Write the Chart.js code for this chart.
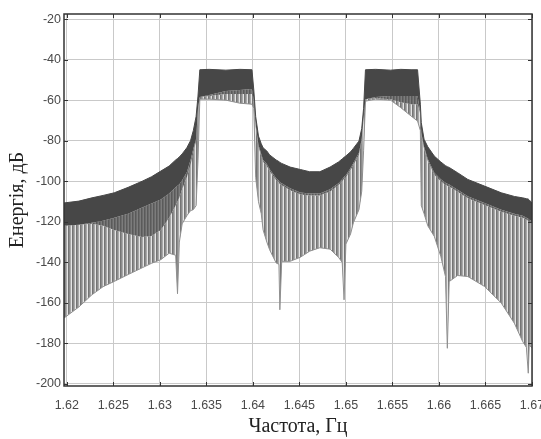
<!DOCTYPE html>
<html>
<head>
<meta charset="utf-8">
<script src="https://cdn.jsdelivr.net/npm/chart.js@4/dist/chart.umd.min.js"></script>
<style>
  html, body { margin: 0; padding: 0; background: #fff; }
  #wrap { width: 541px; height: 439px; }
</style>
</head>
<body>
<div id="wrap"><canvas id="chart" width="541" height="439"></canvas></div>
<script>
// frequency points, Hz
const freq = [
    1.6197, 1.6213, 1.6227, 1.6239, 1.6251, 1.6266, 1.6281, 1.6291, 1.6301, 1.6310,
    1.6317, 1.6319, 1.6321, 1.6324, 1.6329, 1.6333, 1.6336, 1.6339, 1.6341, 1.6343,
    1.6353, 1.6371, 1.6386, 1.6399, 1.6401, 1.6403, 1.6406, 1.6409, 1.6411, 1.6415,
    1.6418, 1.6425, 1.6428, 1.6429, 1.6431, 1.6440, 1.6451, 1.6461, 1.6472, 1.6483,
    1.6492, 1.6496, 1.6498, 1.6500, 1.6505, 1.6508, 1.6514, 1.6517, 1.6519, 1.6521,
    1.6532, 1.6548, 1.6559, 1.6570, 1.6577, 1.6580, 1.6581, 1.6584, 1.6588, 1.6595,
    1.6602, 1.6607, 1.6609, 1.6611, 1.6620, 1.6631, 1.6649, 1.6667, 1.6681, 1.6690,
    1.6694, 1.6696, 1.6697, 1.6700
];
// top of the dense (dark) part of the spectrum, dB
const peakLevel = [
    -110.7, -109.8, -108.2, -107.0, -105.7, -103.0, -100.0, -97.8, -95.0, -92.5,
    -89.5, -88.8, -88.0, -86.5, -83.5, -80.0, -75.0, -68.0, -58.0, -45.0,
    -44.8, -45.2, -44.8, -45.0, -55.0, -68.0, -77.7, -81.5, -83.5, -85.1,
    -87.0, -89.5, -90.3, -90.7, -91.2, -93.0, -94.2, -95.3, -95.3, -93.0,
    -90.5, -89.0, -88.2, -87.5, -85.5, -83.8, -80.2, -74.0, -64.0, -45.0,
    -44.8, -45.2, -44.8, -45.0, -45.0, -62.0, -71.1, -79.3, -83.0, -87.6,
    -90.5, -92.3, -92.8, -93.2, -95.8, -99.1, -102.4, -105.7, -107.5, -108.2,
    -108.6, -108.8, -109.2, -110.7
];
// bottom of the dense (dark) part, dB
const denseLevel = [
    -122.0, -121.5, -120.5, -119.5, -118.0, -116.0, -113.0, -111.0, -109.0, -106.0,
    -103.0, -102.2, -101.5, -99.5, -95.5, -89.5, -84.0, -79.0, -64.0, -58.5,
    -57.5, -55.5, -55.0, -54.5, -60.0, -72.0, -82.0, -86.5, -89.5, -91.5,
    -94.0, -98.5, -99.8, -100.5, -101.0, -103.5, -105.5, -106.0, -106.0, -104.0,
    -101.0, -99.0, -97.8, -97.0, -93.5, -91.0, -86.0, -79.0, -68.0, -59.5,
    -58.5, -58.0, -58.0, -58.0, -58.0, -66.0, -76.0, -83.0, -89.0, -95.8,
    -99.0, -100.8, -101.2, -101.6, -104.2, -107.4, -110.7, -114.0, -116.0, -117.0,
    -118.0, -118.5, -119.0, -119.7
];
// lower edge of the half-dense grey zone under the dark part, dB
const shadeLevel = [
    -122.0, -121.5, -121.0, -122.0, -124.0, -126.0, -127.5, -127.0, -124.0, -118.0,
    -112.0, -110.0, -108.0, -104.0, -98.0, -92.0, -86.0, -80.0, -65.0, -58.5,
    -58.0, -57.0, -57.0, -57.0, -61.0, -73.0, -83.0, -87.5, -90.5, -92.5,
    -95.0, -99.5, -100.8, -101.5, -102.0, -104.5, -106.5, -107.0, -107.0, -105.0,
    -102.0, -100.0, -98.8, -98.0, -94.5, -92.0, -87.0, -80.0, -69.0, -59.5,
    -59.0, -59.5, -61.0, -62.0, -62.0, -67.0, -77.0, -84.0, -90.0, -96.8,
    -100.0, -101.8, -102.2, -102.6, -105.2, -108.4, -111.7, -115.0, -117.0, -118.0,
    -119.0, -119.5, -120.0, -120.7
];
// lowest ends of the sparse spectral lines, dB
const lineLevel = [
    -167.5, -162.0, -156.0, -152.0, -149.4, -146.0, -142.7, -140.5, -138.7, -135.5,
    -136.5, -155.5, -130.0, -121.0, -117.0, -114.5, -114.0, -112.0, -90.0, -59.5,
    -59.5, -60.0, -61.5, -62.0, -64.0, -98.0, -110.0, -116.0, -124.0, -130.0,
    -133.8, -140.3, -141.0, -163.4, -139.5, -139.5, -137.5, -134.5, -132.8, -133.5,
    -137.5, -140.0, -158.5, -131.0, -126.0, -120.5, -114.0, -105.0, -85.0, -60.5,
    -59.5, -60.0, -63.7, -67.8, -70.3, -75.0, -112.0, -116.0, -122.0, -127.2,
    -137.1, -147.0, -182.4, -149.5, -146.5, -147.0, -151.9, -160.1, -170.0, -179.1,
    -182.0, -194.7, -181.0, -182.0
];
const xTicks = [1.62, 1.625, 1.63, 1.635, 1.64, 1.645, 1.65, 1.655, 1.66, 1.665, 1.67];
const yTicks = [-200, -180, -160, -140, -120, -100, -80, -60, -40, -20];

function pts(values) {
    return freq.map((f, i) => ({ x: f, y: values[i] }));
}

// vertical stripe pattern imitating the comb of spectral lines
function stripes(cols) {
    const c = document.createElement('canvas');
    c.width = cols.length; c.height = 4;
    const g = c.getContext('2d');
    cols.forEach((col, i) => { g.fillStyle = col; g.fillRect(i, 0, 1, 4); });
    return g.createPattern(c, 'repeat');
}

const framePlugin = {
    id: 'frame',
    afterDatasetsDraw(chart) {
        const { ctx, chartArea: a, scales } = chart;
        ctx.save();
        ctx.strokeStyle = '#333';
        ctx.lineWidth = 1;
        scales.x.ticks.forEach(t => {
            const px = Math.round(scales.x.getPixelForValue(t.value)) + 0.5;
            ctx.beginPath();
            ctx.moveTo(px, a.top); ctx.lineTo(px, a.top + 4);
            ctx.moveTo(px, a.bottom); ctx.lineTo(px, a.bottom - 4);
            ctx.stroke();
        });
        scales.y.ticks.forEach(t => {
            const py = Math.round(scales.y.getPixelForValue(t.value)) + 0.5;
            ctx.beginPath();
            ctx.moveTo(a.left, py); ctx.lineTo(a.left + 4, py);
            ctx.moveTo(a.right, py); ctx.lineTo(a.right - 4, py);
            ctx.stroke();
        });
        ctx.lineWidth = 1.5;
        ctx.strokeRect(a.left, a.top, a.right - a.left, a.bottom - a.top);
        ctx.restore();
    }
};

const tickFont = { family: 'Liberation Sans, Arial, sans-serif', size: 12.5 };
const titleFont = { family: 'Liberation Serif, Times New Roman, serif', size: 20 };

new Chart(document.getElementById('chart'), {
    type: 'line',
    data: {
        datasets: [
            { data: pts(peakLevel), borderColor: '#474747', borderWidth: 1, fill: false },
            { data: pts(denseLevel), borderWidth: 0, backgroundColor: '#474747', fill: 0 },
            { data: pts(shadeLevel), borderWidth: 0, backgroundColor: stripes(['#5a5a5a', '#6a6a6a', '#7c7c7c']), fill: 1 },
            { data: pts(lineLevel), borderColor: '#8f8f8f', borderWidth: 1,
              backgroundColor: stripes(['#747474', '#8c8c8c', '#a9a9a9', '#e4e4e4']), fill: 2 }
        ]
    },
    options: {
        responsive: false,
        animation: false,
        events: [],
        layout: { padding: { left: 0, right: 9, top: 14, bottom: 0 } },
        elements: { point: { radius: 0 }, line: { tension: 0 } },
        plugins: { legend: { display: false }, tooltip: { enabled: false } },
        scales: {
            x: {
                type: 'linear',
                min: 1.6197,
                max: 1.6700,
                afterBuildTicks: s => { s.ticks = xTicks.map(v => ({ value: v })); },
                afterFit: s => { s.height = 53; s.paddingLeft = 0; s.paddingRight = 0; },
                grid: { color: '#c9c9c9', drawTicks: false },
                border: { display: false },
                ticks: { color: '#4a4a4a', font: tickFont, padding: 12, maxRotation: 0, autoSkip: false,
                    callback: v => String(parseFloat(v.toFixed(3))) },
                title: { display: true, text: 'Частота, Гц', color: '#222', font: titleFont, padding: { top: 0, bottom: 0 } }
            },
            y: {
                min: -201,
                max: -17.5,
                afterBuildTicks: s => { s.ticks = yTicks.map(v => ({ value: v })); },
                afterFit: s => { s.width = 64; s.paddingTop = 0; s.paddingBottom = 0; },
                grid: { color: '#c9c9c9', drawTicks: false },
                border: { display: false },
                ticks: { color: '#4a4a4a', font: tickFont, padding: 3, callback: v => String(v) },
                title: { display: true, text: 'Енергія, дБ', color: '#222', font: titleFont, padding: { top: 6, bottom: 0 } }
            }
        }
    },
    plugins: [framePlugin]
});
</script>
</body>
</html>
